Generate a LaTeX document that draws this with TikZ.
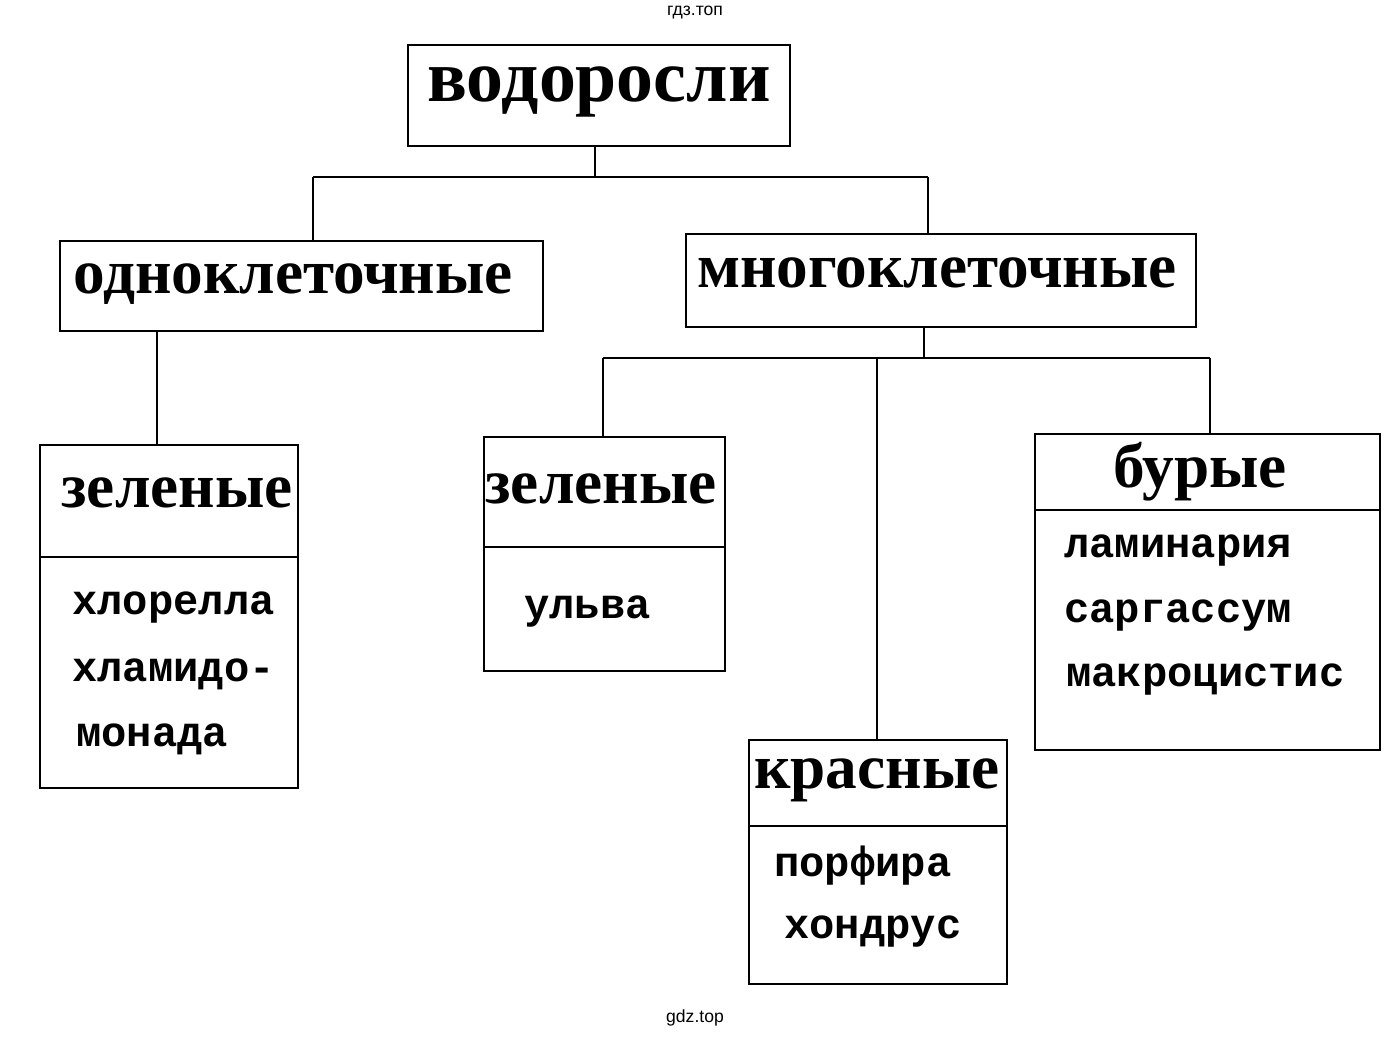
\documentclass[tikz,border=0pt]{standalone}
\usepackage{fontspec}
\setmainfont{Liberation Serif}
\newfontfamily\monof{Liberation Mono}
\newfontfamily\sansf{Liberation Sans}
\begin{document}
\begin{tikzpicture}[x=0.02cm,y=-0.02cm,
  box/.style={draw,line width=1.3pt},
  ln/.style={line width=1.3pt},
  hd/.style={font=\fontsize{36}{40}\selectfont\bfseries},
  it/.style={font=\fontsize{24}{30}\selectfont\monof\bfseries,anchor=west}]
\useasboundingbox (0,0) rectangle (1393,1038);
\node[font=\fontsize{10}{12}\selectfont\sansf] (t1) at (695,13) {гдз.топ};
\node[font=\fontsize{10}{12}\selectfont\sansf] (t2) at (695,1018) {gdz.top};
% root
\draw[box] (408,45) rectangle (790,146);
\node[hd,font=\fontsize{42}{46}\selectfont\bfseries] (root) at (599,92) {водоросли};
\coordinate (rb) at (595,146);
\draw[box] (60,241) rectangle (543,331);
\node[hd] (uni) at (293,284) {одноклеточные};
\draw[box] (686,234) rectangle (1196,327);
\node[hd] (multi) at (937,273) {многоклеточные};
\draw[ln] (rb) -- (595,177) (313,177) -- (928,177) (313,177) -- (313,241) (928,177) -- (928,234);
% left green
\draw[box] (40,445) rectangle (298,788);
\draw[ln] (40,557) -- (298,557);
\node[hd] (g1) at (177,493) {зеленые};
\node[it] (g1a) at (66,608) {хлорелла};
\node[it] (g1b) at (66,674) {хламидо-};
\node[it] (g1c) at (70,739) {монада};
\draw[ln] (157,331) -- (157,445);
% mid green
\draw[box] (484,437) rectangle (725,671);
\draw[ln] (484,547) -- (725,547);
\node[hd] (g2) at (601,489) {зеленые};
\node[it] (g2a) at (518,612) {ульва};
% brown
\draw[box] (1035,434) rectangle (1380,750);
\draw[ln] (1035,510) -- (1380,510);
\node[hd] (b) at (1200,472) {бурые};
\node[it] (ba) at (1058,551) {ламинария};
\node[it] (bb) at (1058,616) {саргассум};
\node[it] (bc) at (1060,680) {макроцистис};
% red
\draw[box] (749,740) rectangle (1007,984);
\draw[ln] (749,826) -- (1007,826);
\node[hd] (r) at (877,780) {красные};
\node[it] (ra) at (768,866) {порфира};
\node[it] (rb2) at (778,932) {хондрус};
\draw[ln] (924,327) -- (924,358) (603,358) -- (1210,358) (603,358) -- (603,437) (877,358) -- (877,740) (1210,358) -- (1210,434);
\end{tikzpicture}
\end{document}
